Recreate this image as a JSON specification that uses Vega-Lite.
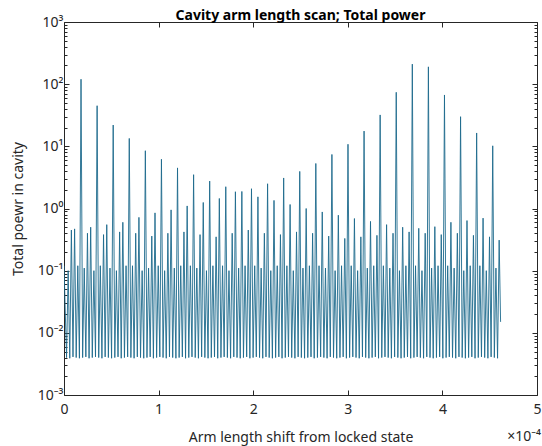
{
  "$schema": "https://vega.github.io/schema/vega-lite/v6.json",
  "width": 473,
  "height": 373,
  "autosize": "none",
  "padding": {"left": 64, "top": 22, "right": 5, "bottom": 51},
  "background": "white",
  "config": {
    "font": "Noto Sans",
    "view": {"stroke": null},
    "axis": {"grid": false, "domainColor": "#262626", "tickColor": "#262626", "labelColor": "#262626", "titleColor": "#262626", "labelFont": "Noto Sans", "titleFont": "Noto Sans", "labelFontSize": 13, "titleFontSize": 14, "titleFontWeight": "normal", "domainWidth": 1, "tickWidth": 1}
  },
  "title": {"text": "Cavity arm length scan; Total power", "fontSize": 14, "fontWeight": "bold", "font": "Noto Sans", "color": "#000000", "anchor": "middle", "offset": -8},
  "data": {"values": [
    {"shift":0,"power":0.12},{"shift":0.027,"power":0.004},{"shift":0.044,"power":0.1},{"shift":0.061,"power":0.0039},{"shift":0.078,"power":0.45},{"shift":0.095,"power":0.0041},{"shift":0.112,"power":0.47},{"shift":0.129,"power":0.004},{"shift":0.146,"power":0.12},{"shift":0.163,"power":0.0039},
    {"shift":0.18,"power":120},{"shift":0.197,"power":0.004},{"shift":0.214,"power":0.11},{"shift":0.231,"power":0.0041},{"shift":0.248,"power":0.4},{"shift":0.265,"power":0.0039},{"shift":0.282,"power":0.5},{"shift":0.299,"power":0.004},{"shift":0.316,"power":0.1},{"shift":0.333,"power":0.0041},
    {"shift":0.35,"power":45},{"shift":0.367,"power":0.004},{"shift":0.384,"power":0.12},{"shift":0.401,"power":0.0039},{"shift":0.418,"power":0.38},{"shift":0.435,"power":0.0041},{"shift":0.452,"power":0.55},{"shift":0.469,"power":0.004},{"shift":0.486,"power":0.11},{"shift":0.503,"power":0.0039},
    {"shift":0.52,"power":22},{"shift":0.537,"power":0.004},{"shift":0.554,"power":0.1},{"shift":0.571,"power":0.0041},{"shift":0.588,"power":0.42},{"shift":0.605,"power":0.0039},{"shift":0.622,"power":0.6},{"shift":0.639,"power":0.004},{"shift":0.656,"power":0.12},{"shift":0.673,"power":0.0041},
    {"shift":0.69,"power":13.4},{"shift":0.707,"power":0.004},{"shift":0.724,"power":0.12},{"shift":0.741,"power":0.0039},{"shift":0.758,"power":0.4},{"shift":0.775,"power":0.0041},{"shift":0.792,"power":0.72},{"shift":0.809,"power":0.004},{"shift":0.826,"power":0.1},{"shift":0.843,"power":0.0039},
    {"shift":0.86,"power":8.5},{"shift":0.877,"power":0.004},{"shift":0.894,"power":0.11},{"shift":0.911,"power":0.0041},{"shift":0.928,"power":0.36},{"shift":0.945,"power":0.0039},{"shift":0.962,"power":0.85},{"shift":0.979,"power":0.004},{"shift":0.996,"power":0.12},{"shift":1.013,"power":0.0041},
    {"shift":1.03,"power":6.2},{"shift":1.047,"power":0.004},{"shift":1.064,"power":0.1},{"shift":1.081,"power":0.0039},{"shift":1.098,"power":0.4},{"shift":1.115,"power":0.0041},{"shift":1.132,"power":0.95},{"shift":1.149,"power":0.004},{"shift":1.166,"power":0.11},{"shift":1.183,"power":0.0039},
    {"shift":1.2,"power":4.5},{"shift":1.217,"power":0.004},{"shift":1.234,"power":0.12},{"shift":1.251,"power":0.0041},{"shift":1.268,"power":0.42},{"shift":1.285,"power":0.0039},{"shift":1.302,"power":1.1},{"shift":1.319,"power":0.004},{"shift":1.336,"power":0.12},{"shift":1.353,"power":0.0041},
    {"shift":1.37,"power":3.5},{"shift":1.387,"power":0.004},{"shift":1.404,"power":0.11},{"shift":1.421,"power":0.0039},{"shift":1.438,"power":0.38},{"shift":1.455,"power":0.0041},{"shift":1.472,"power":1.25},{"shift":1.489,"power":0.004},{"shift":1.506,"power":0.1},{"shift":1.523,"power":0.0039},
    {"shift":1.54,"power":2.76},{"shift":1.557,"power":0.004},{"shift":1.574,"power":0.12},{"shift":1.591,"power":0.0041},{"shift":1.608,"power":0.35},{"shift":1.625,"power":0.0039},{"shift":1.642,"power":1.45},{"shift":1.659,"power":0.004},{"shift":1.676,"power":0.12},{"shift":1.693,"power":0.0041},
    {"shift":1.71,"power":2.24},{"shift":1.727,"power":0.004},{"shift":1.744,"power":0.1},{"shift":1.761,"power":0.0039},{"shift":1.778,"power":0.4},{"shift":1.795,"power":0.0041},{"shift":1.812,"power":1.86},{"shift":1.829,"power":0.004},{"shift":1.846,"power":0.11},{"shift":1.863,"power":0.0039},
    {"shift":1.88,"power":1.88},{"shift":1.897,"power":0.004},{"shift":1.914,"power":0.12},{"shift":1.931,"power":0.0041},{"shift":1.948,"power":0.45},{"shift":1.965,"power":0.0039},{"shift":1.982,"power":2.08},{"shift":1.999,"power":0.004},{"shift":2.016,"power":0.12},{"shift":2.033,"power":0.0041},
    {"shift":2.05,"power":1.54},{"shift":2.067,"power":0.004},{"shift":2.084,"power":0.11},{"shift":2.101,"power":0.0039},{"shift":2.118,"power":0.4},{"shift":2.135,"power":0.0041},{"shift":2.152,"power":2.5},{"shift":2.169,"power":0.004},{"shift":2.186,"power":0.1},{"shift":2.203,"power":0.0039},
    {"shift":2.22,"power":1.35},{"shift":2.237,"power":0.004},{"shift":2.254,"power":0.12},{"shift":2.271,"power":0.0041},{"shift":2.288,"power":0.38},{"shift":2.305,"power":0.0039},{"shift":2.322,"power":3.1},{"shift":2.339,"power":0.004},{"shift":2.356,"power":0.12},{"shift":2.373,"power":0.0041},
    {"shift":2.39,"power":1.16},{"shift":2.407,"power":0.004},{"shift":2.424,"power":0.1},{"shift":2.441,"power":0.0039},{"shift":2.458,"power":0.42},{"shift":2.475,"power":0.0041},{"shift":2.492,"power":3.95},{"shift":2.509,"power":0.004},{"shift":2.526,"power":0.11},{"shift":2.543,"power":0.0039},
    {"shift":2.56,"power":1.0},{"shift":2.577,"power":0.004},{"shift":2.594,"power":0.12},{"shift":2.611,"power":0.0041},{"shift":2.628,"power":0.4},{"shift":2.645,"power":0.0039},{"shift":2.662,"power":5.3},{"shift":2.679,"power":0.004},{"shift":2.696,"power":0.12},{"shift":2.713,"power":0.0041},
    {"shift":2.73,"power":0.88},{"shift":2.747,"power":0.004},{"shift":2.764,"power":0.11},{"shift":2.781,"power":0.0039},{"shift":2.798,"power":0.36},{"shift":2.815,"power":0.0041},{"shift":2.832,"power":7.4},{"shift":2.849,"power":0.004},{"shift":2.866,"power":0.1},{"shift":2.883,"power":0.0039},
    {"shift":2.9,"power":0.78},{"shift":2.917,"power":0.004},{"shift":2.934,"power":0.12},{"shift":2.951,"power":0.0041},{"shift":2.968,"power":0.33},{"shift":2.985,"power":0.0039},{"shift":3.002,"power":10.8},{"shift":3.019,"power":0.004},{"shift":3.036,"power":0.12},{"shift":3.053,"power":0.0041},
    {"shift":3.07,"power":0.69},{"shift":3.087,"power":0.004},{"shift":3.104,"power":0.1},{"shift":3.121,"power":0.0039},{"shift":3.138,"power":0.35},{"shift":3.155,"power":0.0041},{"shift":3.172,"power":17.6},{"shift":3.189,"power":0.004},{"shift":3.206,"power":0.11},{"shift":3.223,"power":0.0039},
    {"shift":3.24,"power":0.62},{"shift":3.257,"power":0.004},{"shift":3.274,"power":0.12},{"shift":3.291,"power":0.0041},{"shift":3.308,"power":0.37},{"shift":3.325,"power":0.0039},{"shift":3.342,"power":32},{"shift":3.359,"power":0.004},{"shift":3.376,"power":0.12},{"shift":3.393,"power":0.0041},
    {"shift":3.41,"power":0.55},{"shift":3.427,"power":0.004},{"shift":3.444,"power":0.11},{"shift":3.461,"power":0.0039},{"shift":3.478,"power":0.4},{"shift":3.495,"power":0.0041},{"shift":3.512,"power":74},{"shift":3.529,"power":0.004},{"shift":3.546,"power":0.1},{"shift":3.563,"power":0.0039},
    {"shift":3.58,"power":0.5},{"shift":3.597,"power":0.004},{"shift":3.614,"power":0.12},{"shift":3.631,"power":0.0041},{"shift":3.648,"power":0.42},{"shift":3.665,"power":0.0039},{"shift":3.682,"power":210},{"shift":3.699,"power":0.004},{"shift":3.716,"power":0.12},{"shift":3.733,"power":0.0041},
    {"shift":3.75,"power":0.48},{"shift":3.767,"power":0.004},{"shift":3.784,"power":0.1},{"shift":3.801,"power":0.0039},{"shift":3.818,"power":0.4},{"shift":3.835,"power":0.0041},{"shift":3.852,"power":190},{"shift":3.869,"power":0.004},{"shift":3.886,"power":0.11},{"shift":3.903,"power":0.0039},
    {"shift":3.92,"power":0.51},{"shift":3.937,"power":0.004},{"shift":3.954,"power":0.12},{"shift":3.971,"power":0.0041},{"shift":3.988,"power":0.38},{"shift":4.005,"power":0.0039},{"shift":4.022,"power":67},{"shift":4.039,"power":0.004},{"shift":4.056,"power":0.12},{"shift":4.073,"power":0.0041},
    {"shift":4.09,"power":0.6},{"shift":4.107,"power":0.004},{"shift":4.124,"power":0.11},{"shift":4.141,"power":0.0039},{"shift":4.158,"power":0.4},{"shift":4.175,"power":0.0041},{"shift":4.192,"power":30},{"shift":4.209,"power":0.004},{"shift":4.226,"power":0.1},{"shift":4.243,"power":0.0039},
    {"shift":4.26,"power":0.64},{"shift":4.277,"power":0.004},{"shift":4.294,"power":0.12},{"shift":4.311,"power":0.0041},{"shift":4.328,"power":0.37},{"shift":4.345,"power":0.0039},{"shift":4.362,"power":16.4},{"shift":4.379,"power":0.004},{"shift":4.396,"power":0.12},{"shift":4.413,"power":0.0041},
    {"shift":4.43,"power":0.7},{"shift":4.447,"power":0.004},{"shift":4.464,"power":0.1},{"shift":4.481,"power":0.0039},{"shift":4.498,"power":0.35},{"shift":4.515,"power":0.0041},{"shift":4.532,"power":10.2},{"shift":4.549,"power":0.004},{"shift":4.566,"power":0.11},{"shift":4.583,"power":0.0039},
    {"shift":4.6,"power":0.31},{"shift":4.615,"power":0.015}
  ]},
  "resolve": {"axis": {"x": "independent", "y": "independent"}},
  "layer": [
    {
      "mark": {"type": "line", "color": "#1d6a8c", "strokeWidth": 0.9, "clip": true},
      "encoding": {
        "x": {"field": "shift", "type": "quantitative", "scale": {"domain": [0, 5], "nice": false, "zero": false},
          "axis": {"orient": "bottom", "values": [0, 1, 2, 3, 4, 5], "tickSize": -5, "labelPadding": 12, "labelFlush": false, "labelFontSize": 14, "title": "Arm length shift from locked state", "titlePadding": 14}},
        "y": {"field": "power", "type": "quantitative", "scale": {"type": "log", "domain": [0.001, 1000], "nice": false},
          "axis": {"orient": "left",
            "values": [0.001,0.002,0.003,0.004,0.005,0.006,0.007,0.008,0.009,0.01,0.02,0.03,0.04,0.05,0.06,0.07,0.08,0.09,0.1,0.2,0.3,0.4,0.5,0.6,0.7,0.8,0.9,1,2,3,4,5,6,7,8,9,10,20,30,40,50,60,70,80,90,100,200,300,400,500,600,700,800,900,1000],
            "labelExpr": "datum.value == 1000 ? '10³' : datum.value == 100 ? '10²' : datum.value == 10 ? '10¹' : datum.value == 1 ? '10⁰' : datum.value == 0.1 ? '10⁻¹' : datum.value == 0.01 ? '10⁻²' : datum.value == 0.001 ? '10⁻³' : ''",
            "labelOverlap": false, "labelFlush": false, "labelFontSize": 14, "labelPadding": 6,
            "tickSize": {"condition": {"test": "indexof([0.001,0.01,0.1,1,10,100,1000], datum.value) >= 0", "value": -5}, "value": -3},
            "title": "Total poewr in cavity", "titlePadding": 12}}
      }
    },
    {
      "mark": {"type": "line", "strokeOpacity": 0},
      "encoding": {
        "x": {"field": "shift", "type": "quantitative", "axis": {"orient": "top", "values": [0, 1, 2, 3, 4, 5], "tickSize": -5, "labels": false, "title": null}},
        "y": {"field": "power", "type": "quantitative",
          "axis": {"orient": "right",
            "values": [0.001,0.002,0.003,0.004,0.005,0.006,0.007,0.008,0.009,0.01,0.02,0.03,0.04,0.05,0.06,0.07,0.08,0.09,0.1,0.2,0.3,0.4,0.5,0.6,0.7,0.8,0.9,1,2,3,4,5,6,7,8,9,10,20,30,40,50,60,70,80,90,100,200,300,400,500,600,700,800,900,1000],
            "labels": false, "title": null,
            "tickSize": {"condition": {"test": "indexof([0.001,0.01,0.1,1,10,100,1000], datum.value) >= 0", "value": -5}, "value": -3}}}
      }
    },
    {
      "data": {"values": [{"label": "×10⁻⁴"}]},
      "mark": {"type": "text", "fontSize": 14, "color": "#262626", "align": "right", "baseline": "middle", "dx": 4, "dy": 42},
      "encoding": {
        "x": {"datum": 5, "type": "quantitative", "axis": null},
        "y": {"datum": 0.001, "type": "quantitative", "axis": null},
        "text": {"field": "label"}
      }
    }
  ]
}
